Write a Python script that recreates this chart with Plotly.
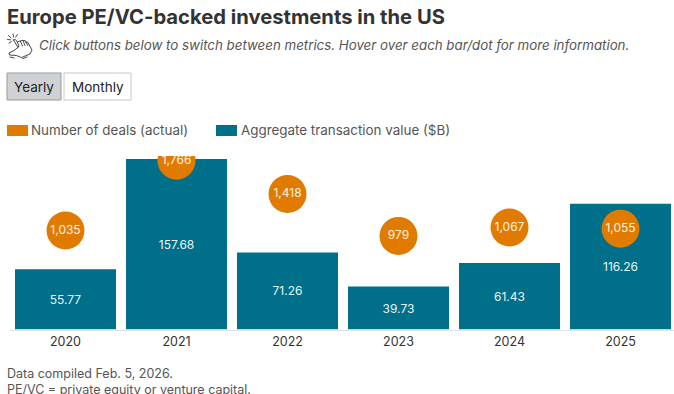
import base64
import plotly.graph_objects as go

TITLE = "Europe PE/VC-backed investments in the US"
SUBTITLE = "Click buttons below to switch between metrics. Hover over each bar/dot for more information."
FOOT = ["Data compiled Feb. 5, 2026.", "PE/VC = private equity or venture capital."]
years = ["2020", "2021", "2022", "2023", "2024", "2025"]
value_b = [55.77, 157.68, 71.26, 39.73, 61.43, 116.26]
deals = [1035, 1766, 1418, 979, 1067, 1055]
TEAL = "#006f8a"
ORANGE = "#e07b00"
FONT = "Inter"
W, H = 674, 394
def px(x): return x / W
def py(y): return 1 - y / H

HAND = """<svg xmlns='http://www.w3.org/2000/svg' viewBox='0 0 26 26' width='104' height='104'>
<g fill='none' stroke='#333333' stroke-width='0.9' stroke-linecap='round' stroke-linejoin='round'>
<path d='M6.5 7 L11 14.5 L12 13 L9.5 7.5 Q8 5.5 6.5 7 Z'/>
<path d='M10.5 9 L13.2 7.8 L15.5 13 M13.5 8 L15.8 7.2 L18 12.5 M16 7.6 L18.2 7.6 L20.8 12.5 M18.6 9 L20.6 9 L25 17 L23 21 L14.5 24.5 L9.5 22.5 L2.5 22 L2 20 L7 17.5 L11 14.5'/>
<path d='M3 24 L7 25 M15 26 L20 24'/>
<path d='M6 1 L6.6 4 M1.5 2.5 L4 4.8 M0.5 6.5 L3.5 6.8 M10.5 1.5 L8.6 4.2 M2 10 L4.4 8.6'/>
</g></svg>"""
HAND_URI = "data:image/svg+xml;base64," + base64.b64encode(HAND.encode()).decode()

fig = go.Figure()
fig.add_bar(x=years, y=value_b, width=0.91, marker=dict(color=TEAL, line=dict(width=0)),
            text=[f"{v:.2f}" for v in value_b], textposition="inside", insidetextanchor="middle",
            textangle=0, textfont=dict(color="#e6f4f8", size=12, family=FONT), name="Aggregate transaction value ($B)",
            hovertemplate="%{x}<br>%{y:.2f}<extra></extra>", showlegend=False)
fig.add_scatter(x=years, y=deals, yaxis="y2", mode="markers+text",
                marker=dict(size=38, color=ORANGE, line=dict(width=0)),
                text=[f"{v:,}" for v in deals], textposition="middle center",
                textfont=dict(color="#fff3e0", size=12, family=FONT), name="Number of deals (actual)",
                cliponaxis=True, showlegend=False, hovertemplate="%{x}<br>%{y:,}<extra></extra>")

anns = []
shapes = []
def text(x, y, s, size, color, anchor="left"):
    shift = -2 if anchor == "left" else 0
    anns.append(dict(x=px(x), y=py(y), xref="paper", yref="paper", text=s, showarrow=False, xanchor=anchor,
                     yanchor="middle", align=anchor, xshift=shift, font=dict(size=size, color=color, family=FONT)))
text(7, 16, f"<b>{TITLE}</b>", 20.2, "#333333")
text(39, 45, f"<i>{SUBTITLE}</i>", 13.3, "#555555")
for (x0, x1, fill, line, label, tx) in [(7, 61, "#cfd2d4", "#9a9a9a", "Yearly", 34),
                                        (64, 131, "#ffffff", "#c8c8c8", "Monthly", 97.5)]:
    shapes.append(dict(type="rect", xref="paper", yref="paper", x0=px(x0), x1=px(x1),
                       y0=py(73), y1=py(100), fillcolor=fill, line=dict(color=line, width=1)))
    text(tx, 86.5, label, 13.5, "#222222", anchor="center")
for (x0, label, color, tx) in [(7, "Number of deals (actual)", ORANGE, 31),
                               (216, "Aggregate transaction value ($B)", TEAL, 240.5)]:
    shapes.append(dict(type="rect", xref="paper", yref="paper", x0=px(x0), x1=px(x0 + 21), y0=py(125), y1=py(136),
                       fillcolor=color, line=dict(width=0)))
    text(tx, 130, label, 13.4, "#555555")
text(7, 373, FOOT[0], 12.5, "#555555")
text(7, 389.5, FOOT[1], 12.5, "#555555")

fig.update_layout(width=W, height=H, margin=dict(l=0, r=0, t=0, b=0), autosize=False,
                  paper_bgcolor="white", plot_bgcolor="white", annotations=anns, shapes=shapes,
                  images=[dict(source=HAND_URI, xref="paper", yref="paper", x=px(7), y=py(33),
                               sizex=26 / W, sizey=26 / H, xanchor="left", yanchor="top", sizing="contain", layer="above")],
                  xaxis=dict(domain=[px(10), 1], range=[-0.5, 5.482], type="category", showgrid=False,
                             showline=True, linecolor="#dde3e6", linewidth=1, ticks="",
                             tickfont=dict(size=12.5, color="#333333", family=FONT)),
                  yaxis=dict(domain=[py(329.5), py(156)], range=[0, 160.5], visible=False, fixedrange=True),
                  yaxis2=dict(domain=[py(329.5), py(156)], range=[0, 1815], overlaying="y", visible=False, fixedrange=True),
                  font=dict(family=FONT))
fig.write_html("out.html", post_script="document.body.style.margin='0';", config=dict(displayModeBar=False))
